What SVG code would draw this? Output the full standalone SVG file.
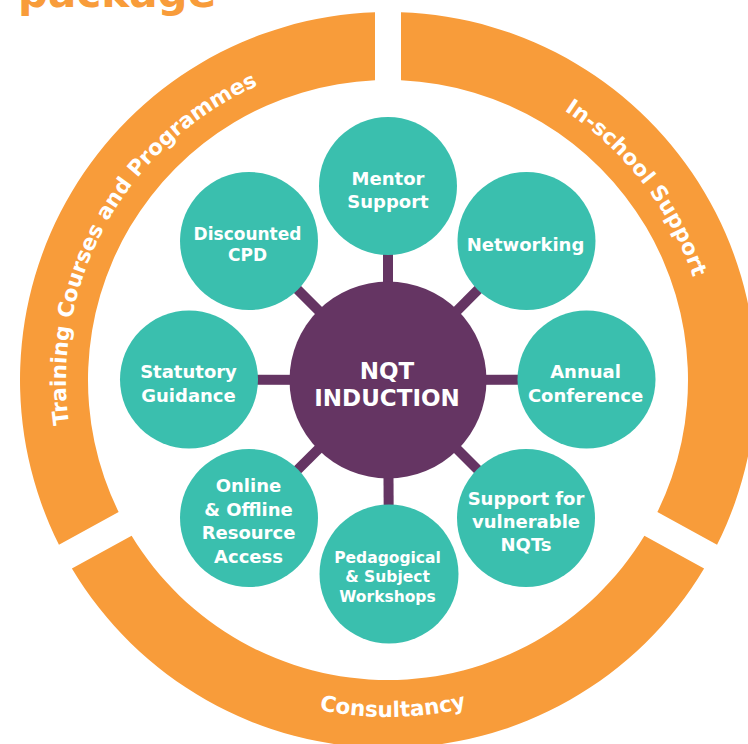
<svg xmlns="http://www.w3.org/2000/svg" width="748" height="744" viewBox="0 0 748 744">
  <defs>
    <style>
      .seg { fill: #F89C3A; }
      .ringtxt { font-family: "DejaVu Sans", "Liberation Sans", sans-serif; font-weight: bold; font-size: 21.5px; fill: #FFFFFF; }
      .title { font-family: "DejaVu Sans", "Liberation Sans", sans-serif; font-weight: bold; font-size: 42px; fill: #F89C3A; }
      .conn { stroke: #653563; stroke-width: 10; fill: none; }
      .node { fill: #3ABFAE; }
      .hub { fill: #653563; }
      .lbl { font-family: "DejaVu Sans", "Liberation Sans", sans-serif; font-weight: bold; font-size: 18px; fill: #FFFFFF; text-anchor: middle; }
      .hublbl { font-family: "DejaVu Sans", "Liberation Sans", sans-serif; font-weight: bold; font-size: 23px; fill: #FFFFFF; text-anchor: middle; }
    </style>
    <path id="arcLeft" d="M 109.14,541 A 322 322 0 0 1 388,58"/>
    <path id="arcRight" d="M 388,58 A 322 322 0 0 1 666.86,541"/>
    <path id="arcBottom" d="M 96.15,548.5 A 337 337 0 0 0 679.85,548.5"/>
  </defs>

  <text class="title" x="18" y="7">package</text>

  <g id="ring-training">
    <path class="seg" d="M 58.95,544.76 A 368 368 0 0 1 375,12.23 L 375,80.28 A 300 300 0 0 0 118.64,512.08 Z"/>
    <text class="ringtxt" text-anchor="middle"><textPath href="#arcLeft" startOffset="49.3%">Training Courses and Programmes</textPath></text>
  </g>
  <g id="ring-inschool">
    <path class="seg" d="M 401,12.23 A 368 368 0 0 1 717.05,544.76 L 657.36,512.08 A 300 300 0 0 0 401,80.28 Z"/>
    <text class="ringtxt" text-anchor="middle"><textPath href="#arcRight" startOffset="43.6%">In-school Support</textPath></text>
  </g>
  <g id="ring-consultancy">
    <path class="seg" d="M 704.09,568.44 A 368 368 0 0 1 71.91,568.44 L 131.60,535.76 A 300 300 0 0 0 644.40,535.76 Z"/>
    <text class="ringtxt" text-anchor="middle"><textPath href="#arcBottom" startOffset="50.7%">Consultancy</textPath></text>
  </g>

  <g id="connectors">
    <line class="conn" x1="388" y1="380" x2="388" y2="186"/>
    <line class="conn" x1="388" y1="380" x2="526.5" y2="241"/>
    <line class="conn" x1="388" y1="380" x2="586.5" y2="379.5"/>
    <line class="conn" x1="388" y1="380" x2="526" y2="518"/>
    <line class="conn" x1="388" y1="380" x2="389" y2="574"/>
    <line class="conn" x1="388" y1="380" x2="249" y2="518"/>
    <line class="conn" x1="388" y1="380" x2="189" y2="379.5"/>
    <line class="conn" x1="388" y1="380" x2="249" y2="241"/>
  </g>

  <g id="nqt-induction">
    <circle class="hub" cx="388" cy="380" r="98.5"/>
    <text class="hublbl" x="387" y="379">NQT</text>
    <text class="hublbl" x="387" y="406">INDUCTION</text>
  </g>

  <g id="mentor-support">
    <circle class="node" cx="388" cy="186" r="69"/>
    <text class="lbl" x="388" y="185">Mentor</text>
    <text class="lbl" x="388" y="208.4">Support</text>
  </g>
  <g id="networking">
    <circle class="node" cx="526.5" cy="241" r="69"/>
    <text class="lbl" x="525.5" y="250.5">Networking</text>
  </g>
  <g id="annual-conference">
    <circle class="node" cx="586.5" cy="379.5" r="69"/>
    <text class="lbl" x="585.5" y="378.3">Annual</text>
    <text class="lbl" x="585.5" y="401.7">Conference</text>
  </g>
  <g id="support-vulnerable">
    <circle class="node" cx="526" cy="518" r="69"/>
    <text class="lbl" x="526" y="505">Support for</text>
    <text class="lbl" x="526" y="528">vulnerable</text>
    <text class="lbl" x="526" y="551">NQTs</text>
  </g>
  <g id="pedagogical-workshops">
    <circle class="node" cx="389" cy="574" r="69.5"/>
    <text class="lbl" x="387.5" y="563.3" style="font-size:15.5px">Pedagogical</text>
    <text class="lbl" x="387.5" y="582.4" style="font-size:15.5px">&amp; Subject</text>
    <text class="lbl" x="387.5" y="601.6" style="font-size:15.5px">Workshops</text>
  </g>
  <g id="online-offline">
    <circle class="node" cx="249" cy="518" r="69"/>
    <text class="lbl" x="248.5" y="492.3">Online</text>
    <text class="lbl" x="248.5" y="515.7">&amp; Offline</text>
    <text class="lbl" x="248.5" y="539.2">Resource</text>
    <text class="lbl" x="248.5" y="562.7">Access</text>
  </g>
  <g id="statutory-guidance">
    <circle class="node" cx="189" cy="379.5" r="69"/>
    <text class="lbl" x="188.5" y="378.3">Statutory</text>
    <text class="lbl" x="188.5" y="401.7">Guidance</text>
  </g>
  <g id="discounted-cpd">
    <circle class="node" cx="249" cy="241" r="69"/>
    <text class="lbl" x="247.5" y="240" style="font-size:17px">Discounted</text>
    <text class="lbl" x="247.5" y="260.7" style="font-size:17px">CPD</text>
  </g>
</svg>
